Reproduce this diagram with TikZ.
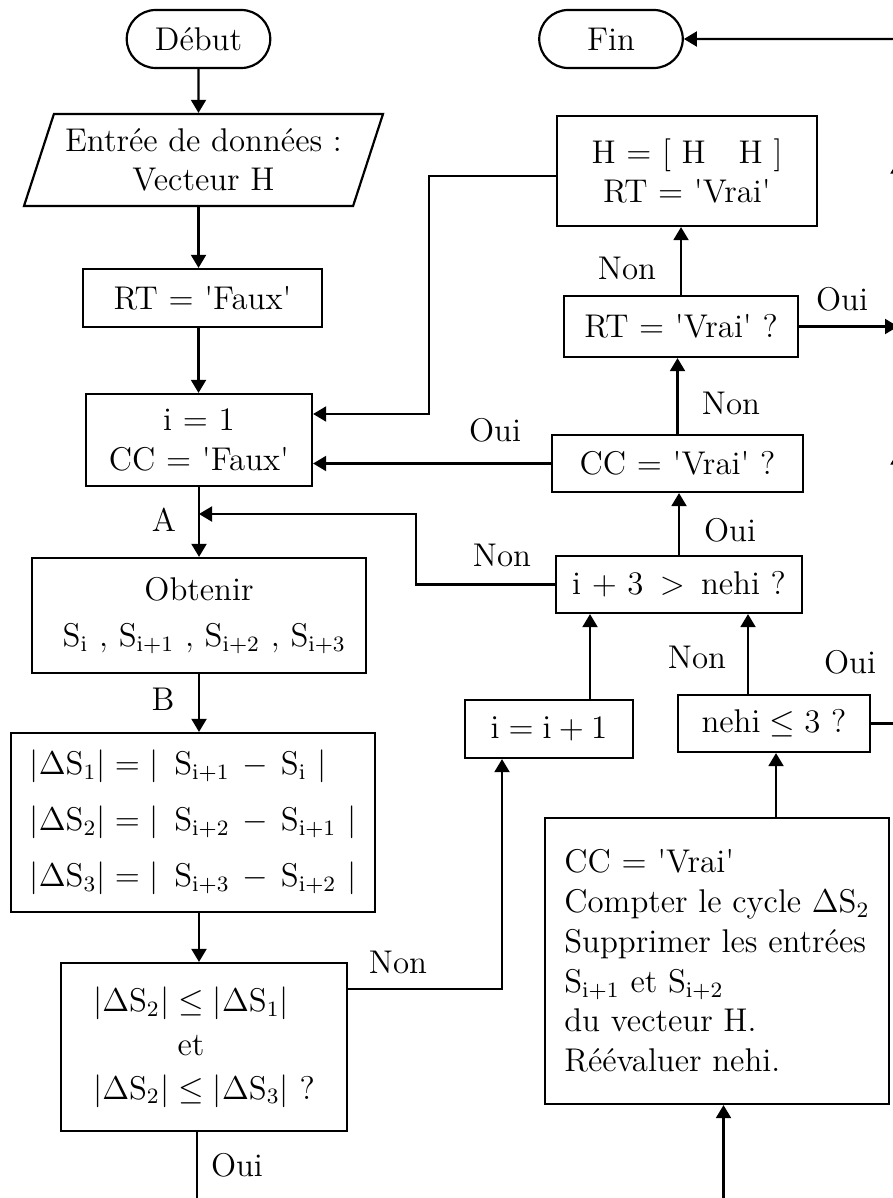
\documentclass[tikz,border=0pt]{standalone}
\usepackage{tikz}
\usetikzlibrary{arrows.meta}
\usetikzlibrary{positioning}
\usetikzlibrary{shapes.geometric,shapes.misc}
\usetikzlibrary{calc}
\newlength\px
\setlength\px{0.3651pt}
\newcommand{\q}{\textquotesingle}
\tikzstyle{every node}=[font=\fontsize{12}{14.5}\selectfont]
\tikzstyle{term}=[draw,rounded rectangle,minimum width=149\px,minimum height=58\px,inner sep=1pt]
\tikzstyle{io}=[draw,trapezium,trapezium left angle=66.5,trapezium right angle=113.5,trapezium stretches body,minimum width=359\px,minimum height=92\px,inner sep=1pt,align=center]
\tikzstyle{arr}=[-{Triangle[length=4.75pt,width=5.45pt]}]
\tikzset{box/.style 2 args={draw,rectangle,minimum width=#1\px,minimum height=#2\px,inner sep=1pt}}

\begin{document}
\begin{tikzpicture}[x=\px,y=-\px,thick]
\useasboundingbox (0,0) rectangle (893,1198);
\clip (0,0) rectangle (893,1198);

% colonne gauche
\node[term] (debut) at (198.5,39) {Début};
\node[io] (entree) at (203.5,160) {Entrée de données :\\Vecteur H};
\node[box={239}{58}] (rtfaux) at (202.5,298) {RT $=$ \q Faux\q};
\node[box={226}{92},align=center] (init) at (199,440) {i $=$ 1\\CC $=$ \q Faux\q};
\node[box={334}{115},align=center] (obtenir) at (199,615.5)
  {Obtenir\\[2.5pt]\ $\mathrm{S}_{\mathrm{i}}$ , $\mathrm{S}_{\mathrm{i+1}}$ , $\mathrm{S}_{\mathrm{i+2}}$ , $\mathrm{S}_{\mathrm{i+3}}$};
\node[box={364}{179},align=left] (delta) at (193,822.5)
  {$|\Delta\mathrm{S}_1| = |\ \,\mathrm{S}_{\mathrm{i+1}} \,-\, \mathrm{S}_{\mathrm{i}}\ |$\\[6pt]
   $|\Delta\mathrm{S}_2| = |\ \,\mathrm{S}_{\mathrm{i+2}} \,-\, \mathrm{S}_{\mathrm{i+1}}\ |$\\[6pt]
   $|\Delta\mathrm{S}_3| = |\ \,\mathrm{S}_{\mathrm{i+3}} \,-\, \mathrm{S}_{\mathrm{i+2}}\ |$};
\node[box={286}{168},align=center] (test) at (204,1047)
  {$|\Delta\mathrm{S}_2| \leq |\Delta\mathrm{S}_1|$\phantom{\ ?}\\[1.5pt]
   et\phantom{\ ?}\\[1.5pt]
   $|\Delta\mathrm{S}_2| \leq |\Delta\mathrm{S}_3|$ ?};

% colonne droite
\node[term] (fin) at (611,39) {Fin};
\node[box={260}{110},align=center] (hh) at (687,171) {H $=$ [ H\quad H ]\\RT $=$ \q Vrai\q};
\node[box={234}{61}] (rtvrai) at (681,326.5) {RT $=$ \q Vrai\q\ ?};
\node[box={251}{57}] (ccvrai) at (677.5,463.5) {CC $=$ \q Vrai\q\ ?};
\node[box={246}{57}] (fini) at (679,584.5) {i $+$ 3 $\,>\,$ nehi ?};
\node[box={168}{58}] (incr) at (549,729) {$\mathrm{i} = \mathrm{i} + 1$};
\node[box={192}{57}] (nehi) at (774,723.5) {$\mathrm{nehi} \leq 3$ ?};
\node[box={344}{286},align=left] (cycle) at (717,961)
  {CC $=$ \q Vrai\q\\
   Compter le cycle $\Delta\mathrm{S}_2$\\
   Supprimer les entrées\\
   $\mathrm{S}_{\mathrm{i+1}}$ et $\mathrm{S}_{\mathrm{i+2}}$\\
   du vecteur H.\\
   Réévaluer nehi.};

% points de passage
\coordinate (a1) at (416,514);
\coordinate (h1) at (429,176);
\coordinate (h2) at (429,414);
\coordinate (n1) at (502,989);
\coordinate (coin) at (898,723.5);
\coordinate (m1) at (898,451.5);
\coordinate (m2) at (898,160.5);
\coordinate (haut) at (898,39);
\coordinate (bas1) at (197,1215);
\coordinate (bas2) at (723.5,1215);

% liaisons colonne gauche
\draw[arr] (debut) -- (debut |- entree.north);
\draw[arr] (debut |- entree.south) -- (debut |- rtfaux.north);
\draw[arr] (debut |- rtfaux.south) -- (debut |- init.north);
\draw[arr] (init) -- (obtenir);
\draw[arr] (init.south |- obtenir.south) -- (init.south |- delta.north);
\draw[arr] (init.south |- delta.south) -- (init.south |- test.north);
\draw (test.south -| bas1) -- (bas1);
\node at (164,520) {A};
\node at (163,699) {B};
\node at (237,1165) {Oui};

% boucles
\draw[arr] (test.east |- n1) -- (n1) -- (n1 |- incr.south);
\node at (398,962) {Non};
\draw[arr] ([xshift=41\px]incr.north) -- ([xshift=41\px]incr.north |- fini.south);
\draw[arr] (fini.west) -- (fini.west -| a1) -- (a1) -- (a1 -| init.south);
\node at (502,555) {Non};
\draw[arr] (fini.north) -- (fini.north |- ccvrai.south);
\node at (730,530) {Oui};
\draw[arr] (ccvrai.west) -- (ccvrai.west -| init.east);
\node at (495,430) {Oui};
\draw[arr] (ccvrai.north) -- (ccvrai.north |- rtvrai.south);
\node at (731,403) {Non};
\draw[arr] (rtvrai.north) -- (rtvrai.north |- hh.south);
\node at (627,268) {Non};
\draw[arr] (hh.west |- h1) -- (h1) -- (h2) -- (h2 -| init.east);
\draw[arr] (rtvrai.east) -- (rtvrai.east -| coin);
\node at (842,299) {Oui};
\draw[arr] ([xshift=-26\px]nehi.north) -- ([xshift=-26\px]nehi.north |- fini.south);
\node at (697,657) {Non};
\draw[arr] (nehi.east) -- (coin) -- (m1);
\draw[arr] (m1) -- (m2);
\draw[arr] (m2) -- (haut) -- (fin);
\node at (850,662) {Oui};
\draw[arr] ([xshift=59\px]cycle.north) -- ([xshift=59\px]cycle.north |- nehi.south);
\draw[arr] (bas2) -- (bas2 |- cycle.south);
\end{tikzpicture}
\end{document}
